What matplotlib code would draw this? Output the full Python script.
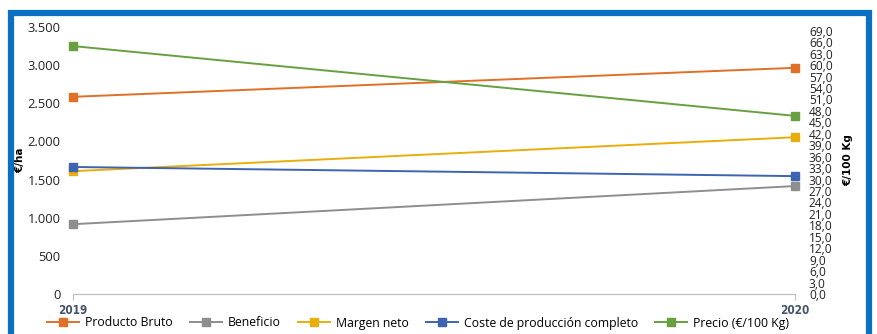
import matplotlib
matplotlib.use("Agg")
import matplotlib.pyplot as plt
from matplotlib.patches import Rectangle
from matplotlib.lines import Line2D

years = ["2019", "2020"]
producto_bruto = [2585, 2965]
beneficio = [915, 1415]
margen_neto = [1610, 2055]
coste_completo = [1665, 1545]
precio = [65.0, 46.7]

left_ticks = [0, 500, 1000, 1500, 2000, 2500, 3000, 3500]
right_ticks = [i * 3 for i in range(24)]

c_pb = "#E07028"
c_ben = "#8E8E8E"
c_mn = "#E8AE0C"
c_cost = "#3D64B0"
c_pre = "#66A040"

W, H = 878, 334
fig = plt.figure(figsize=(W / 100, H / 100), dpi=100)
plt.rcParams['font.family'] = ['Open Sans', 'DejaVu Sans']

# blue frame
fig.patches.append(Rectangle((11 / W, -0.2), (869.5 - 11) / W, 1.2 - 13 / H,
                             transform=fig.transFigure, fill=False,
                             edgecolor="#0B70C2", linewidth=4.5, zorder=0))

ax = fig.add_axes([73 / W, 1 - 294 / H, (795 - 73) / W, (294 - 27) / H])
ax2 = ax.twinx()

x = [0, 1]
kw = dict(marker="s", markersize=6, linewidth=1.4, clip_on=False)
ax.plot(x, producto_bruto, color=c_pb, label="Producto Bruto", **kw)
ax.plot(x, beneficio, color=c_ben, label="Beneficio", **kw)
ax.plot(x, margen_neto, color=c_mn, label="Margen neto", **kw)
ax.plot(x, coste_completo, color=c_cost, label="Coste de producción completo", **kw)
ax2.plot(x, precio, color=c_pre, label="Precio (€/100 Kg)", **kw)

ax.set_xlim(0, 1)
ax.set_ylim(0, 3500)
ax2.set_ylim(0, 70)
ax.set_yticks(left_ticks)
ax.set_yticklabels([f"{v:,}".replace(",", ".") for v in left_ticks], fontsize=9.3, color="#222222")
ax2.set_yticks(right_ticks)
ax2.set_yticklabels([f"{v:.1f}".replace(".", ",") for v in right_ticks], fontsize=8.6, color="#222222")
ax.set_xticks(x)
ax.set_xticklabels(years, fontsize=8.5, fontweight="bold", color="#44546A",
                   family=["DejaVu Sans"], fontstretch="condensed")

for a in (ax, ax2):
    for s in ("top", "left", "right"):
        a.spines[s].set_visible(False)
    a.spines["bottom"].set_color("#BFBFBF")
    a.tick_params(axis="y", length=0)
ax.tick_params(axis="y", pad=9)
ax.tick_params(axis="x", length=4, color="#BFBFBF", pad=3)
ax2.tick_params(axis="y", pad=10)

ax.set_ylabel("€/ha", fontsize=7.5, fontweight="bold", family=["DejaVu Sans"])
ax.yaxis.set_label_coords(-48 / 722, 0.5)
ax2.set_ylabel("€/100 Kg", fontsize=7.5, fontweight="bold", rotation=90, family=["DejaVu Sans"])
ax2.yaxis.set_label_coords(1 + 48 / 722, 0.5)
for a in (ax, ax2):
    a.patch.set_visible(False)

handles = [Line2D([], [], color=c, marker="s", markersize=6, linewidth=1.4)
           for c in (c_pb, c_ben, c_mn, c_cost, c_pre)]
labels = ["Producto Bruto", "Beneficio", "Margen neto",
          "Coste de producción completo", "Precio (€/100 Kg)"]
fig.legend(handles, labels, loc="center", bbox_to_anchor=(418 / W, 1 - 323 / H),
           ncol=5, frameon=False, fontsize=8.8, handlelength=2.6, columnspacing=1.4,
           handletextpad=0.5, borderpad=0)

fig.savefig("out.png", dpi=100)
